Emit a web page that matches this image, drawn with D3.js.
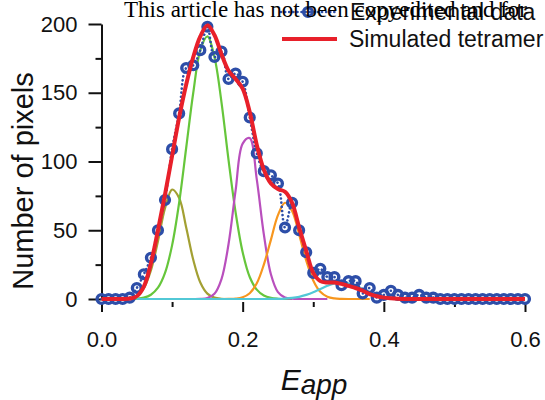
<!DOCTYPE html>
<html>
<head>
<meta charset="utf-8">
<script src="https://cdn.jsdelivr.net/npm/d3@7"></script>
<style>
html, body { margin: 0; padding: 0; background: #fff; }
svg { display: block; }
</style>
</head>
<body>
<svg id="chart" width="545" height="400"></svg>
<script>
// ---- data ----
const E = [0.00,0.01,0.02,0.03,0.04,0.05,0.06,0.07,0.08,0.09,
           0.10,0.11,0.12,0.13,0.14,0.15,0.16,0.17,0.18,0.19,
           0.20,0.21,0.22,0.23,0.24,0.25,0.26,0.27,0.28,0.29,
           0.30,0.31,0.32,0.33,0.34,0.35,0.36,0.37,0.38,0.39,
           0.40,0.41,0.42,0.43,0.44,0.45,0.46,0.47,0.48,0.49,
           0.50,0.51,0.52,0.53,0.54,0.55,0.56,0.57,0.58,0.59,0.60];

const experimental = [0,0,0,0,1,8,18,30,50,72,
                      109,135,168,170,181,198,176,180,160,164,
                      158,132,106,93,90,84,52,70,50,34,
                      19,22,16,16,10,13,13,4,8,1,
                      3,6,3,1,1,3,1,1,0,0,
                      0,0,0,0,0,0,0,0,0,0,0];

const simulated = [0,0,0,0,0.3,2,9,26,50,76,
                   104,132,156,176,191,199,192,178,166,160,
                   153,136,112,94,84,80,78,70,52,35,
                   19,13,12,12,11,9.5,8,6,3.5,2,
                   1,0.5,0.2,0,0,0,0,0,0,0,
                   0,0,0,0,0,0,0,0,0,0,0];

const N = null;
const compOlive = [N,N,N,0.1,0.5,2.3,7.9,20.8,42,66,
                   79.6,73.5,52,28.5,12,3.9,1,0.2,0,0,
                   0,N,N,N,N,N,N,N,N,N,
                   N,N,N,N,N,N,N,N,N,N,
                   N,N,N,N,N,N,N,N,N,N,
                   N,N,N,N,N,N,N,N,N,N,N];
const compGreen = [N,N,N,N,0.1,0.3,1,3.1,8.2,19,
                   39,70,110,150,181,191,176,143,101,63,
                   34,16,6.8,2.5,0.8,0.2,0,0,N,N,
                   N,N,N,N,N,N,N,N,N,N,
                   N,N,N,N,N,N,N,N,N,N,
                   N,N,N,N,N,N,N,N,N,N,N];
const compMagenta = [N,N,N,N,N,N,N,N,N,N,
                     0,0,0,0,0.1,0.7,3.8,14.5,40,79,
                     113,117,87,47,18,5,1,0.2,0,0,
                     0,0,0,N,N,N,N,N,N,N,
                     N,N,N,N,N,N,N,N,N,N,
                     N,N,N,N,N,N,N,N,N,N,N];
const compOrange = [N,N,N,N,N,N,N,N,N,N,
                    N,N,N,N,N,0,0,0,0.1,0.3,
                    1.25,4.2,11.4,25,43,61,70,64,47,28,
                    13.5,5.2,1.6,0.4,0.1,0,0,0,0,N,
                    N,N,N,N,N,N,N,N,N,N,
                    N,N,N,N,N,N,N,N,N,N,N];
const compCyan = [N,N,N,N,N,0,0,0,0,0,
                  0,0,0,0,0,0,0,0,0,0,
                  0,0,0,0,0.05,0.13,0.34,0.8,1.6,3.0,
                  4.9,7.3,9.6,11.4,12,11.4,9.6,7.3,4.9,3.0,
                  1.6,0.8,0.34,0.13,0.05,0,N,N,N,N,
                  N,N,N,N,N,N,N,N,N,N,N];

const xMajorTicks = [0.0, 0.2, 0.4, 0.6];
const xMinorTicks = [0.1, 0.3, 0.5];
const yMajorTicks = [0, 50, 100, 150, 200];
const yMinorTicks = [25, 75, 125, 175];

const legendLabels = ["Experimental data", "Simulated tetramer"];
const watermark = "This article has not been copyedited and for";

// ---- drawing ----
const svg = d3.select("#chart");
const x = d3.scaleLinear().domain([0, 0.6]).range([101.5, 525]);
const y = d3.scaleLinear().domain([0, 200]).range([299, 24]);

const BLUE = "#2d4ea8";
const RED = "#e8202a";

// axes
const yAxis = svg.append("g").attr("transform", "translate(101.5,0)");
yAxis.call(d3.axisLeft(y).tickValues(yMajorTicks).tickSize(13).tickPadding(11).tickSizeOuter(0));
yAxis.append("g").call(d3.axisLeft(y).tickValues(yMinorTicks).tickSize(6).tickFormat("").tickSizeOuter(0))
     .select(".domain").remove();
yAxis.selectAll("text").attr("font-family", "Liberation Sans, Arial, sans-serif").attr("font-size", 22).attr("fill", "#111");
yAxis.selectAll("line, path").attr("stroke", "#111").attr("stroke-width", 2);

const xAxis = svg.append("g").attr("transform", "translate(0,302)");
xAxis.call(d3.axisBottom(x).tickValues(xMajorTicks).tickSize(10).tickPadding(19).tickFormat(d3.format(".1f")));
xAxis.select(".domain").remove();
xAxis.append("g").call(d3.axisBottom(x).tickValues(xMinorTicks).tickSize(5).tickFormat(""))
     .select(".domain").remove();
xAxis.selectAll("text").attr("font-family", "Liberation Sans, Arial, sans-serif").attr("font-size", 22).attr("fill", "#111");
xAxis.selectAll("line").attr("stroke", "#111").attr("stroke-width", 2);

// axis titles
svg.append("text")
  .attr("transform", "translate(33,181) rotate(-90)")
  .attr("text-anchor", "middle")
  .attr("font-family", "Liberation Sans, Arial, sans-serif")
  .attr("font-size", 29).attr("fill", "#111")
  .text("Number of pixels");

const xt = svg.append("text")
  .attr("x", 314).attr("y", 390)
  .attr("text-anchor", "middle")
  .attr("font-family", "Liberation Sans, Arial, sans-serif")
  .attr("font-size", 30).attr("font-style", "italic").attr("fill", "#111");
xt.append("tspan").text("E");
xt.append("tspan").attr("dy", 4).attr("font-size", 28).text("app");

// component curves
const comps = [
  {v: compOlive, c: "#a3a033"},
  {v: compGreen, c: "#66c63b"},
  {v: compMagenta, c: "#b94fbd"},
  {v: compOrange, c: "#f7961e"},
  {v: compCyan, c: "#52c8d6"}
];
comps.forEach(cp => {
  const line = d3.line()
    .defined((d, i) => cp.v[i] !== null)
    .x((d, i) => x(E[i]))
    .y((d, i) => y(cp.v[i]))
    .curve(d3.curveCatmullRom.alpha(0.5));
  svg.append("path")
    .attr("d", line(E))
    .attr("fill", "none")
    .attr("stroke", cp.c)
    .attr("stroke-width", 2.2);
});

// experimental dotted line
const expLine = d3.line()
  .x((d, i) => x(E[i]))
  .y((d, i) => y(experimental[i]))
  .curve(d3.curveCatmullRom.alpha(0.5));
svg.append("path")
  .attr("d", expLine(E))
  .attr("fill", "none")
  .attr("stroke", BLUE)
  .attr("stroke-width", 2.6)
  .attr("stroke-linecap", "round")
  .attr("stroke-dasharray", "0.1,4");

// experimental circles
svg.append("g").selectAll("circle")
  .data(E)
  .join("circle")
  .attr("cx", (d) => x(d))
  .attr("cy", (d, i) => y(experimental[i]))
  .attr("r", 4.4)
  .attr("fill", "none")
  .attr("stroke", BLUE)
  .attr("stroke-width", 3.4);

// simulated red line
const simLine = d3.line()
  .x((d, i) => x(E[i]))
  .y((d, i) => y(simulated[i]))
  .curve(d3.curveCatmullRom.alpha(0.5));
svg.append("path")
  .attr("d", simLine(E))
  .attr("fill", "none")
  .attr("stroke", RED)
  .attr("stroke-width", 4)
  .attr("stroke-linejoin", "round");

// legend
const lg = svg.append("g");
lg.append("line").attr("x1", 281).attr("x2", 336).attr("y1", 12).attr("y2", 12)
  .attr("stroke", BLUE).attr("stroke-width", 2.6).attr("stroke-linecap", "round").attr("stroke-dasharray", "0.1,4");
lg.append("circle").attr("cx", 308).attr("cy", 12).attr("r", 4.4)
  .attr("fill", "none").attr("stroke", BLUE).attr("stroke-width", 3.4);
lg.append("text").attr("x", 350).attr("y", 20)
  .attr("font-family", "Liberation Sans, Arial, sans-serif").attr("font-size", 23).attr("fill", "#111")
  .text(legendLabels[0]);
lg.append("line").attr("x1", 282).attr("x2", 337).attr("y1", 39).attr("y2", 39)
  .attr("stroke", RED).attr("stroke-width", 4);
lg.append("text").attr("x", 349).attr("y", 47)
  .attr("font-family", "Liberation Sans, Arial, sans-serif").attr("font-size", 23).attr("fill", "#111")
  .text(legendLabels[1]);

// watermark text
svg.append("text").attr("x", 124).attr("y", 17)
  .attr("font-family", "Liberation Serif, Times New Roman, serif").attr("font-size", 23).attr("fill", "#000")
  .text(watermark);
</script>
</body>
</html>
